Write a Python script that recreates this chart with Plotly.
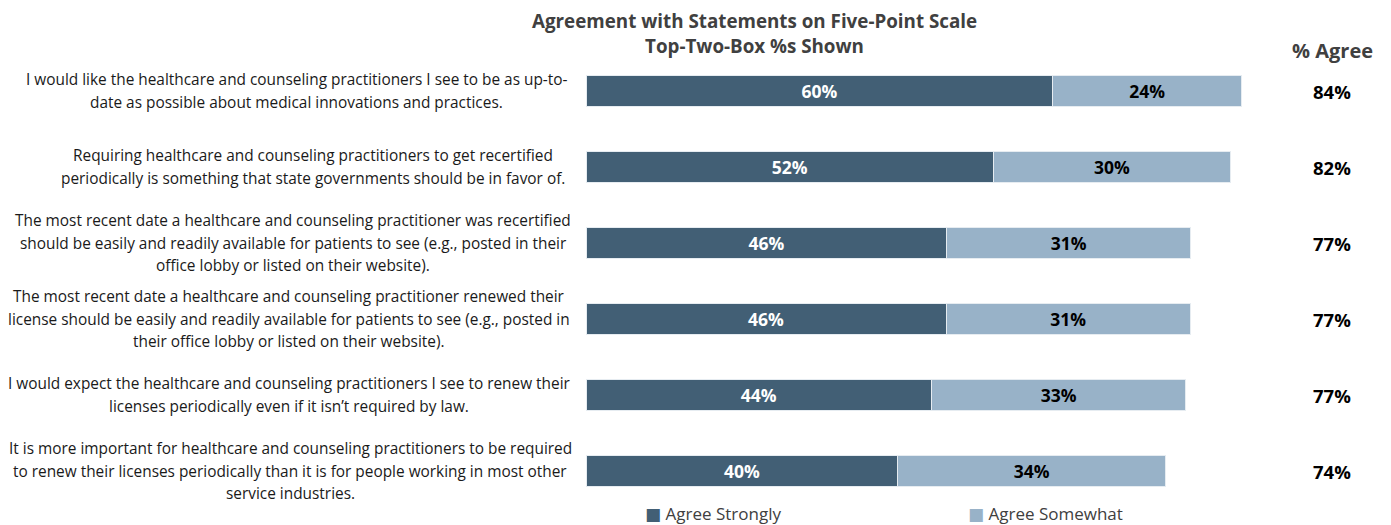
import plotly.graph_objects as go

statements = [
    "I would like the healthcare and counseling practitioners I see to be as up-to-<br>date as possible about medical innovations and practices.",
    "Requiring healthcare and counseling practitioners to get recertified<br>periodically is something that state governments should be in favor of.",
    "The most recent date a healthcare and counseling practitioner was recertified<br>should be easily and readily available for patients to see (e.g., posted in their<br>office lobby or listed on their website).",
    "The most recent date a healthcare and counseling practitioner renewed their<br>license should be easily and readily available for patients to see (e.g., posted in<br>their office lobby or listed on their website).",
    "I would expect the healthcare and counseling practitioners I see to renew their<br>licenses periodically even if it isn\u2019t required by law.",
    "It is more important for healthcare and counseling practitioners to be required<br>to renew their licenses periodically than it is for people working in most other<br>service industries.",
]
cat_ids = ["s1", "s2", "s3", "s4", "s5", "s6"]
agree_strongly = [60.0, 52.4, 46.4, 46.3, 44.4, 40.1]
agree_somewhat = [24.3, 30.4, 31.3, 31.4, 32.7, 34.4]
pct_agree = [84, 82, 77, 77, 77, 74]
series_names = ["Agree Strongly", "Agree Somewhat"]
title_lines = ["Agreement with Statements on Five-Point Scale", "Top-Two-Box %s Shown"]

DARK = "#425F75"
LIGHT = "#98B2C8"
FONT = "Segoe UI, Open Sans, sans-serif"

# layout geometry (figure pixels)
W, H = 1383, 517
L, R, T, B = 578, 27, 44.5, 16
PW = W - L - R
PH = H - T - B
label_centers_px = [288.5, 304.5, 285, 280.5, 281, 282]
LINE_STEP = 22.5

fig = go.Figure()
for name, vals, col, tcol in [(series_names[0], agree_strongly, DARK, "white"),
                              (series_names[1], agree_somewhat, LIGHT, "black")]:
    fig.add_trace(go.Bar(
        y=cat_ids, x=vals, orientation="h", name=name, showlegend=False,
        marker=dict(color=col, line=dict(color="#E6ECF1", width=1)),
        texttemplate="%{x:.0f}%", textposition="inside", insidetextanchor="middle",
        textfont=dict(color=tcol, size=17.5, family=FONT, weight="bold"),
    ))

annotations = []
for cid, txt, cpx in zip(cat_ids, statements, label_centers_px):
    lines = txt.split("<br>")
    n = len(lines)
    for j, line in enumerate(lines):
        annotations.append(dict(
            xref="paper", yref="y", x=(cpx - L) / PW, y=cid, text=line, showarrow=False,
            xanchor="center", yanchor="middle", align="center",
            yshift=-(j - (n - 1) / 2) * LINE_STEP,
            font=dict(size=15.4, color="#1a1a1a", family=FONT),
        ))
for cid, v in zip(cat_ids, pct_agree):
    annotations.append(dict(
        xref="x", yref="y", x=95.9, y=cid, text=f"<b>{v}%</b>", showarrow=False,
        xanchor="center", yanchor="middle",
        font=dict(size=18.5, color="black", family=FONT),
    ))
annotations.append(dict(
    xref="x", yref="paper", x=95.9, y=1 + (T - 42) / PH, text="<b>% Agree</b>", showarrow=False,
    xanchor="center", yanchor="middle",
    font=dict(size=20, color="#404040", family=FONT),
))
for tl, ty in zip(title_lines, [12.5, 37]):
    annotations.append(dict(
        xref="paper", yref="paper", x=(746 - L) / PW, y=1 + (T - ty) / PH,
        text=f"<b>{tl}</b>", showarrow=False, xanchor="center", yanchor="middle",
        borderpad=0,
        font=dict(size=18.8, color="#404040", family=FONT),
    ))
# legend drawn as text entries (symbol + label)
for name, col, lx in zip(series_names, [DARK, LIGHT], [635, 958]):
    annotations.append(dict(
        xref="paper", yref="paper", x=(lx - L) / PW, y=-(506 - (H - B)) / PH,
        text=f"<span style='color:{col};font-family:DejaVu Sans'>\u25A0</span> {name}",
        showarrow=False, xanchor="left", yanchor="middle",
        font=dict(size=17, color="#404040", family=FONT),
    ))

fig.update_layout(
    width=W, height=H,
    margin=dict(l=L, r=R, t=T, b=B),
    barmode="stack", bargap=0.58,
    plot_bgcolor="white", paper_bgcolor="white",
    xaxis=dict(range=[0, 100], visible=False, fixedrange=True),
    yaxis=dict(categoryorder="array", categoryarray=cat_ids, autorange="reversed",
               showticklabels=False, showgrid=False, zeroline=False, showline=False),
    annotations=annotations,
    showlegend=False,
    font=dict(family=FONT),
)

fig.write_html("out.html")
